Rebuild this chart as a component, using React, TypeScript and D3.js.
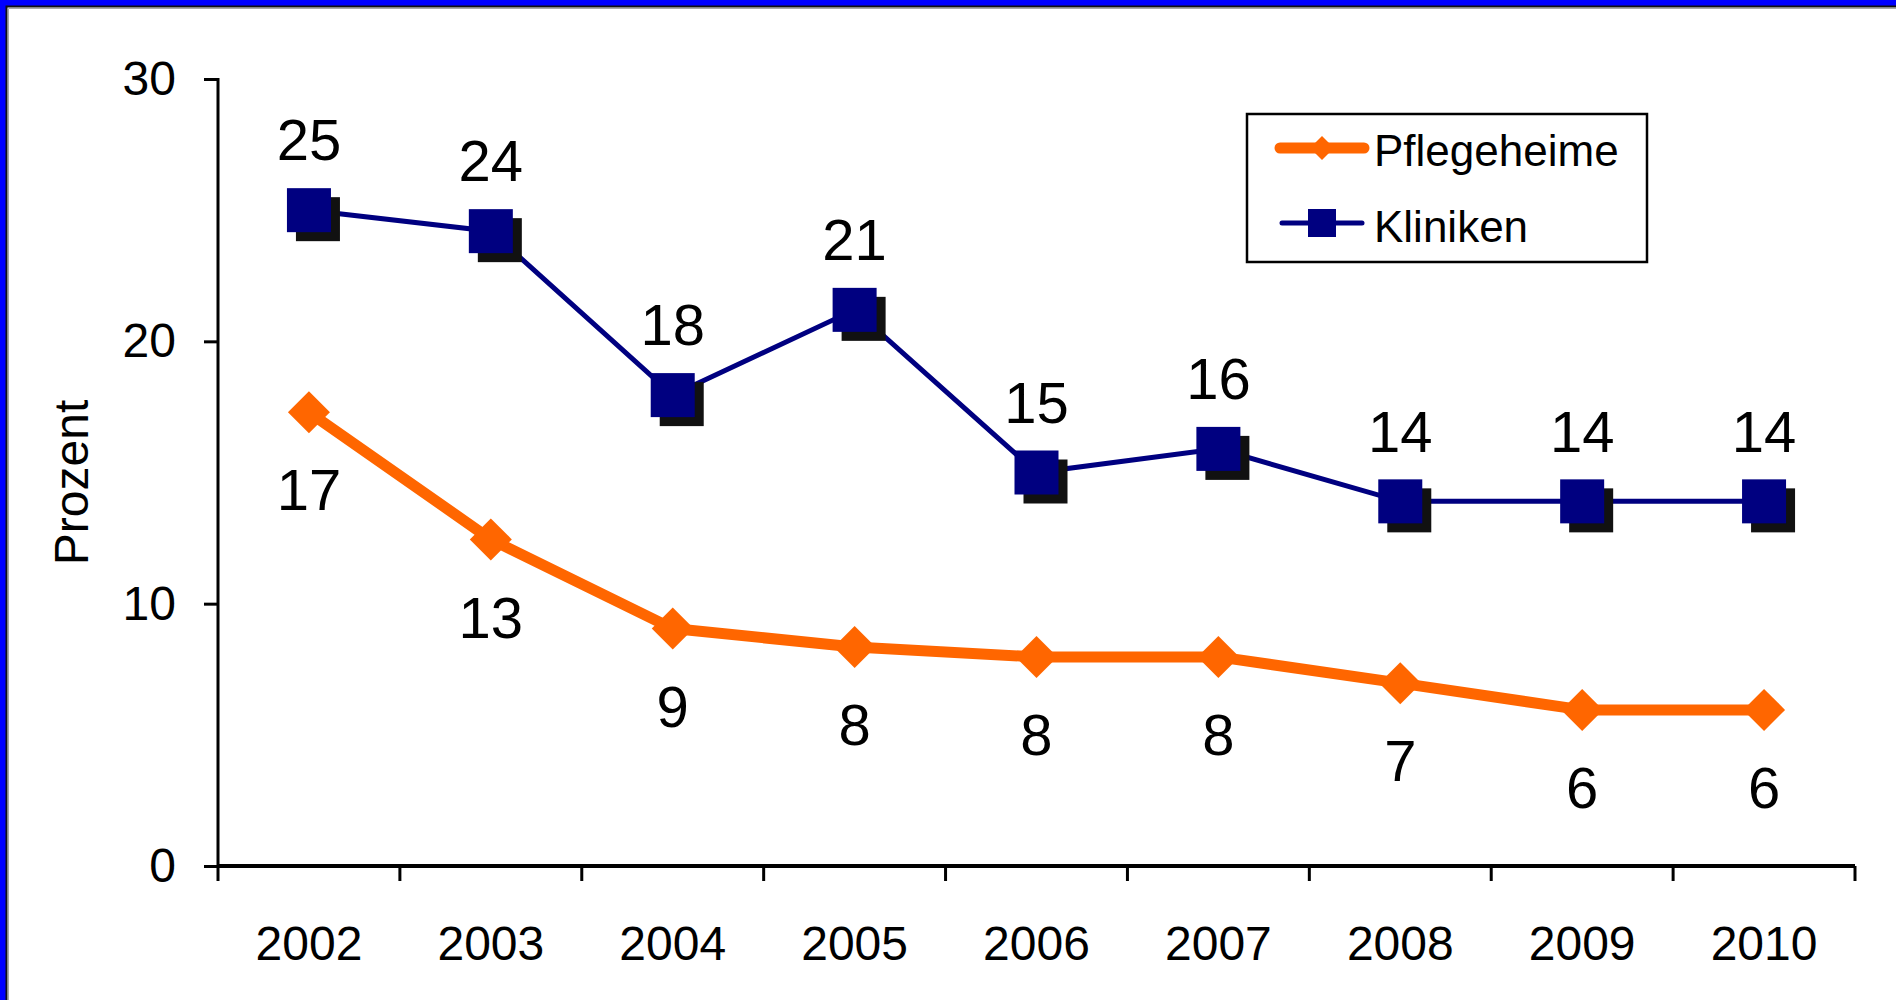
import React, { useEffect, useRef } from 'react';
import * as d3 from 'd3';

const years = ['2002', '2003', '2004', '2005', '2006', '2007', '2008', '2009', '2010'];
const pflegeheime = [17.3, 12.45, 9.05, 8.35, 7.97, 7.97, 6.97, 5.95, 5.95];
const pflegeLabels = ['17', '13', '9', '8', '8', '8', '7', '6', '6'];
const kliniken = [25.0, 24.2, 17.95, 21.2, 15.0, 15.9, 13.9, 13.9, 13.9];
const klinikLabels = ['25', '24', '18', '21', '15', '16', '14', '14', '14'];
const yTicks = [0, 10, 20, 30];

const FONT = '"Liberation Sans", Arial, sans-serif';

const App: React.FC = () => {
  const svgRef = useRef<SVGSVGElement | null>(null);

  useEffect(() => {
    if (!svgRef.current) return;
    const W = 1896;
    const H = 1000;
    const left = 218, right = 1855, top = 79, bottom = 866;

    const svg = d3.select(svgRef.current);
    svg.selectAll('*').remove();
    svg.attr('width', W).attr('height', H);

    svg.append('rect').attr('width', W).attr('height', H).attr('fill', '#fff');

    // slide frame (blue + dark edge)
    svg.append('rect').attr('x', 0).attr('y', 0).attr('width', W).attr('height', 6).attr('fill', '#0000ff');
    svg.append('rect').attr('x', 0).attr('y', 0).attr('width', 6).attr('height', H).attr('fill', '#0000ff');
    svg.append('path').attr('d', `M6.5,${H} V6.5 H${W}`).attr('fill', 'none').attr('stroke', '#111').attr('stroke-width', 2);
    svg.append('path').attr('d', `M8.5,${H} V8.5 H${W}`).attr('fill', 'none').attr('stroke', '#aaa').attr('stroke-width', 1);

    const x = d3.scaleBand().domain(years).range([left, right]);
    const xc = (d: string) => (x(d) as number) + x.bandwidth() / 2;
    const y = d3.scaleLinear().domain([0, 30]).range([bottom, top]);

    // y axis
    const yAxis = svg.append('g')
      .attr('transform', `translate(${left},0)`)
      .call(d3.axisLeft(y).tickValues(yTicks).tickSize(14).tickPadding(28));
    yAxis.select('.domain').attr('stroke', '#000').attr('stroke-width', 3).attr('d', `M0,${top - 1}V${bottom}`);
    yAxis.selectAll('.tick line').attr('stroke', '#000').attr('stroke-width', 3);
    yAxis.selectAll('.tick text').attr('font-family', FONT).attr('font-size', 48).attr('fill', '#000');

    // x axis
    const xAxis = svg.append('g')
      .attr('transform', `translate(0,${bottom})`)
      .call(d3.axisBottom(x).tickSize(0).tickPadding(60));
    xAxis.select('.domain').attr('stroke', '#000').attr('stroke-width', 4).attr('d', `M${left},0H${right}`);
    xAxis.selectAll('.tick text').attr('font-family', FONT).attr('font-size', 48).attr('fill', '#000');
    const edges = years.map((d) => x(d) as number).concat([right]);
    xAxis.selectAll('.edge')
      .data(edges)
      .enter()
      .append('line')
      .attr('x1', (d) => d).attr('x2', (d) => d)
      .attr('y1', 0).attr('y2', 15)
      .attr('stroke', '#000').attr('stroke-width', 3);

    // axis title
    svg.append('text')
      .attr('transform', `translate(88,${(top + bottom) / 2 + 10}) rotate(-90)`)
      .attr('text-anchor', 'middle')
      .attr('font-family', FONT)
      .attr('font-size', 48)
      .text('Prozent');

    const line = d3.line<number>()
      .x((_, i) => xc(years[i]))
      .y((d) => y(d));

    // Pflegeheime
    svg.append('path')
      .datum(pflegeheime)
      .attr('d', line)
      .attr('fill', 'none')
      .attr('stroke', '#ff6600')
      .attr('stroke-width', 11)
      .attr('stroke-linejoin', 'round');

    const diamond = (r: number) => `M0,${-r}L${r},0L0,${r}L${-r},0Z`;
    svg.selectAll('.dia')
      .data(pflegeheime)
      .enter()
      .append('path')
      .attr('d', diamond(21))
      .attr('transform', (d, i) => `translate(${xc(years[i])},${y(d)})`)
      .attr('fill', '#ff6600');

    svg.selectAll('.plab')
      .data(pflegeheime)
      .enter()
      .append('text')
      .attr('x', (_, i) => xc(years[i]))
      .attr('y', (d) => y(d) + 78)
      .attr('dy', '0.35em')
      .attr('text-anchor', 'middle')
      .attr('font-family', FONT)
      .attr('font-size', 58)
      .text((_, i) => pflegeLabels[i]);

    // Kliniken
    svg.append('path')
      .datum(kliniken)
      .attr('d', line)
      .attr('fill', 'none')
      .attr('stroke', '#000080')
      .attr('stroke-width', 5);

    const sq = 44;
    svg.selectAll('.ksh')
      .data(kliniken)
      .enter()
      .append('rect')
      .attr('x', (_, i) => xc(years[i]) - sq / 2 + 9)
      .attr('y', (d) => y(d) - sq / 2 + 9)
      .attr('width', sq).attr('height', sq)
      .attr('fill', '#111');
    svg.selectAll('.ksq')
      .data(kliniken)
      .enter()
      .append('rect')
      .attr('x', (_, i) => xc(years[i]) - sq / 2)
      .attr('y', (d) => y(d) - sq / 2)
      .attr('width', sq).attr('height', sq)
      .attr('fill', '#000080');

    svg.selectAll('.klab')
      .data(kliniken)
      .enter()
      .append('text')
      .attr('x', (_, i) => xc(years[i]))
      .attr('y', (d) => y(d) - 70)
      .attr('dy', '0.35em')
      .attr('text-anchor', 'middle')
      .attr('font-family', FONT)
      .attr('font-size', 58)
      .text((_, i) => klinikLabels[i]);

    // legend
    const lg = svg.append('g');
    lg.append('rect')
      .attr('x', 1247).attr('y', 114).attr('width', 400).attr('height', 148)
      .attr('fill', '#fff').attr('stroke', '#000').attr('stroke-width', 2.5);
    lg.append('line')
      .attr('x1', 1280).attr('x2', 1364).attr('y1', 148).attr('y2', 148)
      .attr('stroke', '#ff6600').attr('stroke-width', 11).attr('stroke-linecap', 'round');
    lg.append('path').attr('d', diamond(12)).attr('transform', 'translate(1322,148)').attr('fill', '#ff6600');
    lg.append('text')
      .attr('x', 1374).attr('y', 151).attr('dy', '0.35em')
      .attr('font-family', FONT).attr('font-size', 44).text('Pflegeheime');
    lg.append('line')
      .attr('x1', 1282).attr('x2', 1362).attr('y1', 223).attr('y2', 223)
      .attr('stroke', '#000080').attr('stroke-width', 5).attr('stroke-linecap', 'round');
    lg.append('rect').attr('x', 1308).attr('y', 209).attr('width', 28).attr('height', 28).attr('fill', '#000080');
    lg.append('text')
      .attr('x', 1374).attr('y', 227).attr('dy', '0.35em')
      .attr('font-family', FONT).attr('font-size', 44).text('Kliniken');
  }, []);

  return (
    <div style={{ position: 'absolute', left: 0, top: 0 }}>
      <svg ref={svgRef} style={{ display: 'block' }}></svg>
    </div>
  );
};

export default App;
